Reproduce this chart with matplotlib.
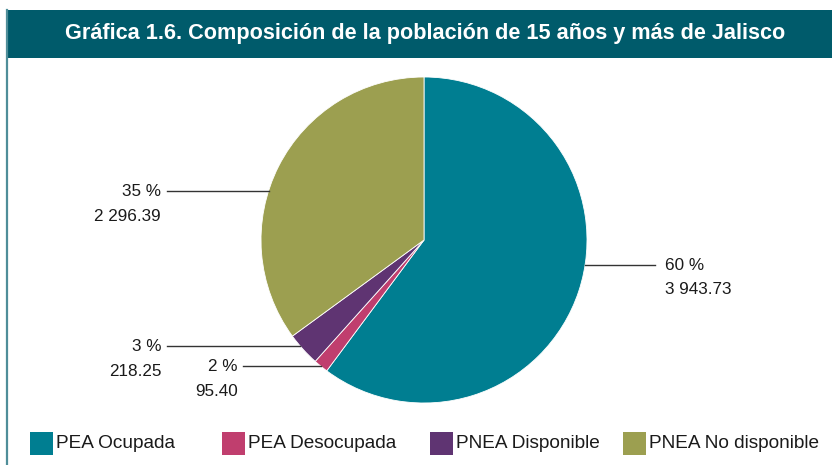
import matplotlib
matplotlib.use("Agg")
import matplotlib.pyplot as plt
import numpy as np
from matplotlib.patches import Rectangle
from matplotlib.lines import Line2D

categories = ["PEA Ocupada", "PEA Desocupada", "PNEA Disponible", "PNEA No disponible"]
values = [3943.73, 95.40, 218.25, 2296.39]
pct_labels = ["60 %", "2 %", "3 %", "35 %"]
value_labels = ["3 943.73", "95.40", "218.25", "2 296.39"]
colors = ["#007E91", "#C03E6E", "#5F3472", "#9C9F50"]
title = "Gráfica 1.6. Composición de la población de 15 años y más de Jalisco"

W, H = 832, 465
fig = plt.figure(figsize=(W / 100, H / 100), dpi=100)
fig.patch.set_facecolor("white")

def fx(px):
    return px / W

def fy(py):
    return 1 - py / H

font = ["Liberation Sans", "DejaVu Sans"]

# frame: title bar and left border
fig.patches.append(Rectangle((fx(7), fy(58)), fx(W - 7) + 0.01, (58 - 10) / H,
                             transform=fig.transFigure, facecolor="#005B6B",
                             edgecolor="none", zorder=0))
fig.lines.append(Line2D([fx(7.5), fx(7.5)], [fy(10), fy(H + 2)], transform=fig.transFigure,
                        color="#4F8E99", linewidth=1.6))
fig.text(fx(425), fy(34), title, color="white", fontsize=15.6, fontweight="bold",
         family=font, ha="center", va="center")

# pie
cx, cy, r = 424, 240, 163
ax = fig.add_axes([fx(cx - r), fy(cy + r), 2 * r / W, 2 * r / H])
ax.pie(values, colors=colors, startangle=90, counterclock=False, radius=1,
       wedgeprops=dict(edgecolor="white", linewidth=0.6))
ax.set_xlim(-1, 1)
ax.set_ylim(-1, 1)
ax.set_aspect("auto")
ax.axis("off")

# label leader lines (pixel layout): (line y, line outer x end, text anchor x, side)
layout = [
    (265, 655, 665, "right"),
    (366, 243, 238, "left"),
    (346, 167, 161, "left"),
    (191, 167, 161, "left"),
]
for (ly, lx_end, tx, side), p, v in zip(layout, pct_labels, value_labels):
    dy = (cy - ly) / r
    dx = np.sqrt(max(0.0, 1 - dy * dy))
    edge_px = cx + dx * r if side == "right" else cx - dx * r
    fig.lines.append(Line2D([fx(edge_px), fx(lx_end)], [fy(ly), fy(ly)],
                            transform=fig.transFigure, color="#333333", linewidth=1.0))
    ha = "left" if side == "right" else "right"
    fig.text(fx(tx), fy(ly), p, fontsize=12.3, ha=ha, va="center", family=font, color="#1a1a1a")
    fig.text(fx(tx), fy(ly + 25), v, fontsize=12.3, ha=ha, va="center", family=font, color="#1a1a1a")

# legend
leg_x = [30, 222, 430, 623]
for x, c, name in zip(leg_x, colors, categories):
    fig.patches.append(Rectangle((fx(x), fy(455)), 23 / W, 23 / H, transform=fig.transFigure,
                                 facecolor=c, edgecolor="none"))
    fig.text(fx(x + 26), fy(443.5), name, fontsize=13.7, ha="left", va="center",
             family=font, color="#1a1a1a")

fig.savefig("out.png", dpi=100)
